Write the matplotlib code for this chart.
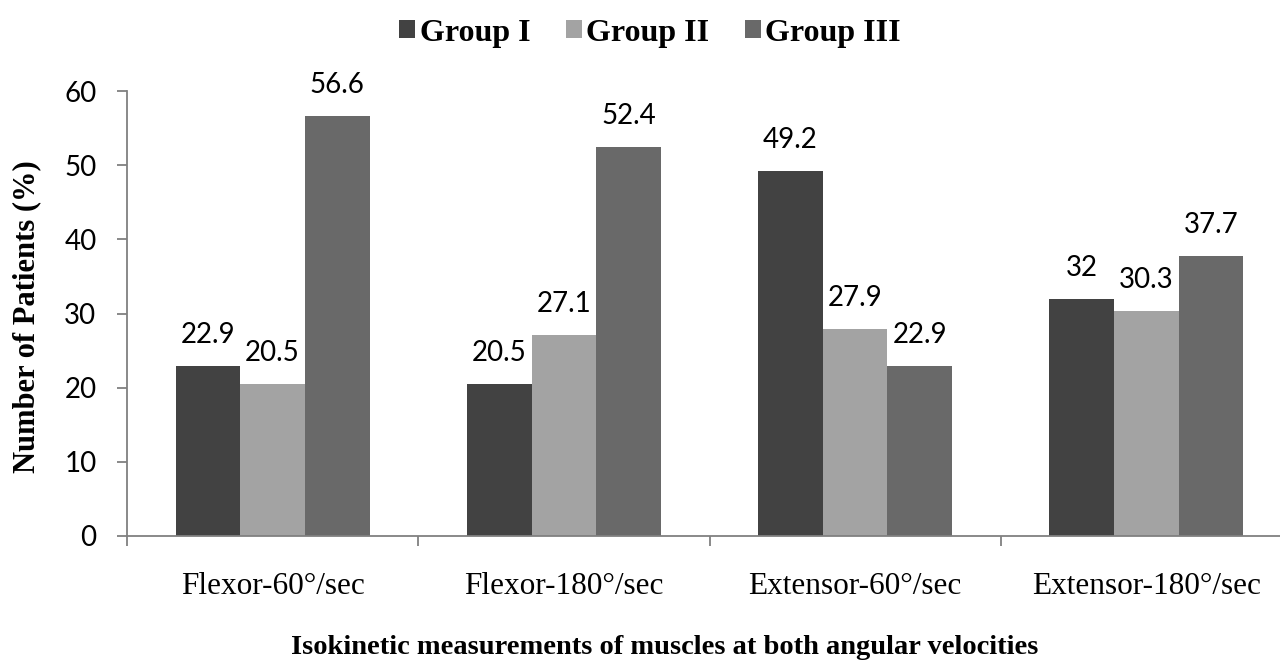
import numpy as np
import matplotlib.pyplot as plt

# Data
categories = ["Flexor-60°/sec", "Flexor-180°/sec", "Extensor-60°/sec", "Extensor-180°/sec"]
groups = ["Group I", "Group II", "Group III"]
group1 = [22.9, 20.5, 49.2, 32]
group2 = [20.5, 27.1, 27.9, 30.3]
group3 = [56.6, 52.4, 22.9, 37.7]
colors = ["#424242", "#a3a3a3", "#696969"]

fig = plt.figure(figsize=(12.8, 6.6), dpi=100)
# axis runs a little past the right edge, as in the original
ax = fig.add_axes([127 / 1280, 124 / 660, 1165 / 1280, 445 / 660])

x = np.arange(len(categories))
w = 0.222
series = [group1, group2, group3]
for i, vals in enumerate(series):
    bars = ax.bar(x + (i - 1) * w, vals, w, color=colors[i], label=groups[i])
    for b, v in zip(bars, vals):
        ax.annotate(f"{v:g}", (b.get_x() + b.get_width() / 2, v),
                    xytext=(0, 13), textcoords="offset points",
                    ha="center", va="bottom", fontsize=20, family="Lato")

ax.set_xlim(-0.5, 3.5)
ax.set_ylim(0, 60)
ax.set_yticks(range(0, 61, 10))
ax.set_yticklabels([str(t) for t in range(0, 61, 10)], family="Lato", fontsize=20)

# ticks between categories, labels centred under groups
ax.set_xticks(np.arange(-0.5, 4, 1))
ax.set_xticklabels([])
ax.set_xticks(x, minor=True)
ax.set_xticklabels(categories, minor=True, family="Liberation Serif", fontsize=22.5)
ax.tick_params(axis="x", which="minor", length=0, pad=26)
ax.tick_params(axis="x", which="major", length=7, color="#808080", width=1.3)
ax.tick_params(axis="y", length=7, color="#808080", width=1.3, pad=15)

for s in ["top", "right"]:
    ax.spines[s].set_visible(False)
for s in ["left", "bottom"]:
    ax.spines[s].set_color("#808080")
    ax.spines[s].set_linewidth(1.3)

fig.text(27 / 1280, 1 - 317 / 660, "Number of Patients (%)", rotation=90,
         ha="center", va="center", family="Liberation Serif",
         fontweight="bold", fontsize=22)
fig.text(665 / 1280, 1 - 654 / 660,
         "Isokinetic measurements of muscles at both angular velocities",
         ha="center", va="baseline", family="Liberation Serif",
         fontweight="bold", fontsize=20.5)

fig.legend(loc="center", bbox_to_anchor=(650 / 1280, 1 - 33 / 660), ncol=3, frameon=False,
           prop={"family": "Liberation Serif", "weight": "bold", "size": 23},
           handlelength=0.5, handleheight=0.5, handletextpad=0.15, columnspacing=1.1,
           borderpad=0)

fig.savefig("out.png", dpi=100)
